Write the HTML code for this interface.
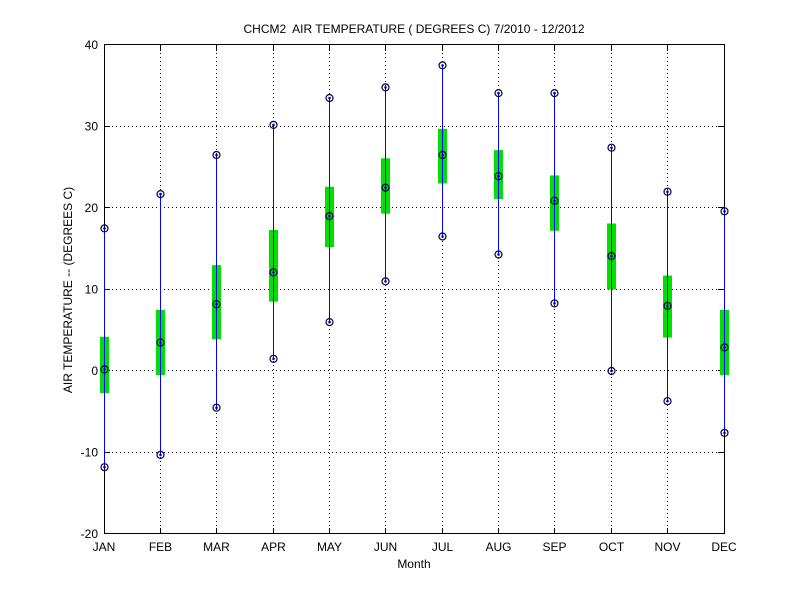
<!DOCTYPE html>
<html><head><meta charset="utf-8"><style>body{margin:0;background:#fff}svg{display:block}text{font-family:"Liberation Sans",sans-serif;font-size:12px;fill:#000}</style></head><body>
<svg width="800" height="600" xmlns="http://www.w3.org/2000/svg" xmlns:xlink="http://www.w3.org/1999/xlink">
<defs><g id="m"><circle cx="0" cy="0" r="3.5" fill="none" stroke="#000040" stroke-width="1.2"/><circle cx="0" cy="0" r="1.3" fill="#0000c0"/></g></defs>
<rect width="800" height="600" fill="#fff"/>
<g stroke="#000" stroke-width="1" stroke-dasharray="1,3">
<line x1="160.5" y1="45" x2="160.5" y2="534"/><line x1="216.5" y1="45" x2="216.5" y2="534"/><line x1="273.5" y1="45" x2="273.5" y2="534"/><line x1="329.5" y1="45" x2="329.5" y2="534"/><line x1="385.5" y1="45" x2="385.5" y2="534"/><line x1="442.5" y1="45" x2="442.5" y2="534"/><line x1="498.5" y1="45" x2="498.5" y2="534"/><line x1="554.5" y1="45" x2="554.5" y2="534"/><line x1="611.5" y1="45" x2="611.5" y2="534"/><line x1="667.5" y1="45" x2="667.5" y2="534"/>
<line x1="104" y1="452.5" x2="724" y2="452.5"/><line x1="104" y1="370.5" x2="724" y2="370.5"/><line x1="104" y1="289.5" x2="724" y2="289.5"/><line x1="104" y1="207.5" x2="724" y2="207.5"/><line x1="104" y1="126.5" x2="724" y2="126.5"/>
</g>
<rect x="104.5" y="44.5" width="620" height="489" fill="none" stroke="#000" stroke-width="1"/>
<g stroke="#000" stroke-width="1">
<line x1="104" y1="452.5" x2="110" y2="452.5"/><line x1="104" y1="370.5" x2="110" y2="370.5"/><line x1="104" y1="289.5" x2="110" y2="289.5"/><line x1="104" y1="207.5" x2="110" y2="207.5"/><line x1="104" y1="126.5" x2="110" y2="126.5"/>
<line x1="724" y1="452.5" x2="718" y2="452.5"/><line x1="724" y1="370.5" x2="718" y2="370.5"/><line x1="724" y1="289.5" x2="718" y2="289.5"/><line x1="724" y1="207.5" x2="718" y2="207.5"/><line x1="724" y1="126.5" x2="718" y2="126.5"/>
<line x1="160.5" y1="534" x2="160.5" y2="528"/><line x1="216.5" y1="534" x2="216.5" y2="528"/><line x1="273.5" y1="534" x2="273.5" y2="528"/><line x1="329.5" y1="534" x2="329.5" y2="528"/><line x1="385.5" y1="534" x2="385.5" y2="528"/><line x1="442.5" y1="534" x2="442.5" y2="528"/><line x1="498.5" y1="534" x2="498.5" y2="528"/><line x1="554.5" y1="534" x2="554.5" y2="528"/><line x1="611.5" y1="534" x2="611.5" y2="528"/><line x1="667.5" y1="534" x2="667.5" y2="528"/>
<line x1="160.5" y1="45" x2="160.5" y2="51"/><line x1="216.5" y1="45" x2="216.5" y2="51"/><line x1="273.5" y1="45" x2="273.5" y2="51"/><line x1="329.5" y1="45" x2="329.5" y2="51"/><line x1="385.5" y1="45" x2="385.5" y2="51"/><line x1="442.5" y1="45" x2="442.5" y2="51"/><line x1="498.5" y1="45" x2="498.5" y2="51"/><line x1="554.5" y1="45" x2="554.5" y2="51"/><line x1="611.5" y1="45" x2="611.5" y2="51"/><line x1="667.5" y1="45" x2="667.5" y2="51"/>
</g>
<g fill="#00e000">
<rect x="100" y="336.8" width="9" height="56.2"/><rect x="156" y="309.9" width="9" height="65.2"/><rect x="212" y="265.1" width="9" height="74.1"/><rect x="269" y="230" width="9" height="71.7"/><rect x="325" y="186.8" width="9" height="60.3"/><rect x="381" y="158.3" width="9" height="55.4"/><rect x="438" y="128.9" width="9" height="54.6"/><rect x="494" y="150.1" width="9" height="48.9"/><rect x="550" y="175.4" width="9" height="55.4"/><rect x="607" y="223.5" width="9" height="66"/><rect x="663" y="275.6" width="9" height="62"/><rect x="720" y="309.9" width="9" height="65.2"/>
</g>
<g fill="#0000ff">
<rect x="104" y="228.4" width="1" height="238.8"/><rect x="160" y="194.1" width="1" height="260.8"/><rect x="216" y="155" width="1" height="252.7"/><rect x="273" y="124.9" width="1" height="233.9"/><rect x="329" y="98" width="1" height="224.1"/><rect x="385" y="87.4" width="1" height="194"/><rect x="442" y="65.4" width="1" height="171.1"/><rect x="498" y="93.1" width="1" height="161.4"/><rect x="554" y="93.1" width="1" height="210.3"/><rect x="611" y="147.7" width="1" height="223.3"/><rect x="667" y="191.7" width="1" height="209.5"/><rect x="724" y="211.3" width="1" height="221.6"/>
</g>
<use xlink:href="#m" x="104.5" y="228.4"/><use xlink:href="#m" x="104.5" y="369.4"/><use xlink:href="#m" x="104.5" y="467.2"/>
<use xlink:href="#m" x="160.5" y="194.1"/><use xlink:href="#m" x="160.5" y="342.5"/><use xlink:href="#m" x="160.5" y="454.9"/>
<use xlink:href="#m" x="216.5" y="155"/><use xlink:href="#m" x="216.5" y="304.2"/><use xlink:href="#m" x="216.5" y="407.7"/>
<use xlink:href="#m" x="273.5" y="124.9"/><use xlink:href="#m" x="273.5" y="272.4"/><use xlink:href="#m" x="273.5" y="358.8"/>
<use xlink:href="#m" x="329.5" y="98"/><use xlink:href="#m" x="329.5" y="216.1"/><use xlink:href="#m" x="329.5" y="322.1"/>
<use xlink:href="#m" x="385.5" y="87.4"/><use xlink:href="#m" x="385.5" y="187.6"/><use xlink:href="#m" x="385.5" y="281.4"/>
<use xlink:href="#m" x="442.5" y="65.4"/><use xlink:href="#m" x="442.5" y="155"/><use xlink:href="#m" x="442.5" y="236.5"/>
<use xlink:href="#m" x="498.5" y="93.1"/><use xlink:href="#m" x="498.5" y="176.2"/><use xlink:href="#m" x="498.5" y="254.5"/>
<use xlink:href="#m" x="554.5" y="93.1"/><use xlink:href="#m" x="554.5" y="200.7"/><use xlink:href="#m" x="554.5" y="303.4"/>
<use xlink:href="#m" x="611.5" y="147.7"/><use xlink:href="#m" x="611.5" y="256.1"/><use xlink:href="#m" x="611.5" y="371"/>
<use xlink:href="#m" x="667.5" y="191.7"/><use xlink:href="#m" x="667.5" y="305.8"/><use xlink:href="#m" x="667.5" y="401.2"/>
<use xlink:href="#m" x="724.5" y="211.3"/><use xlink:href="#m" x="724.5" y="347.4"/><use xlink:href="#m" x="724.5" y="432.9"/>
<g text-anchor="end">
<text x="98" y="538">-20</text><text x="98" y="456.5">-10</text><text x="98" y="375">0</text><text x="98" y="293.5">10</text><text x="98" y="212">20</text><text x="98" y="130.5">30</text><text x="98" y="49">40</text>
</g>
<g text-anchor="middle">
<text x="104" y="551">JAN</text><text x="160.5" y="551">FEB</text><text x="216.5" y="551">MAR</text><text x="273.5" y="551">APR</text><text x="329.5" y="551">MAY</text><text x="385.5" y="551">JUN</text><text x="442.5" y="551">JUL</text><text x="498.5" y="551">AUG</text><text x="554.5" y="551">SEP</text><text x="611.5" y="551">OCT</text><text x="667.5" y="551">NOV</text><text x="724" y="551">DEC</text>
<text x="414" y="33" xml:space="preserve">CHCM2  AIR TEMPERATURE ( DEGREES C) 7/2010 - 12/2012</text>
<text x="414" y="568">Month</text>
<text transform="translate(72,290) rotate(-90)">AIR TEMPERATURE -- (DEGREES C)</text>
</g>
</svg></body></html>
